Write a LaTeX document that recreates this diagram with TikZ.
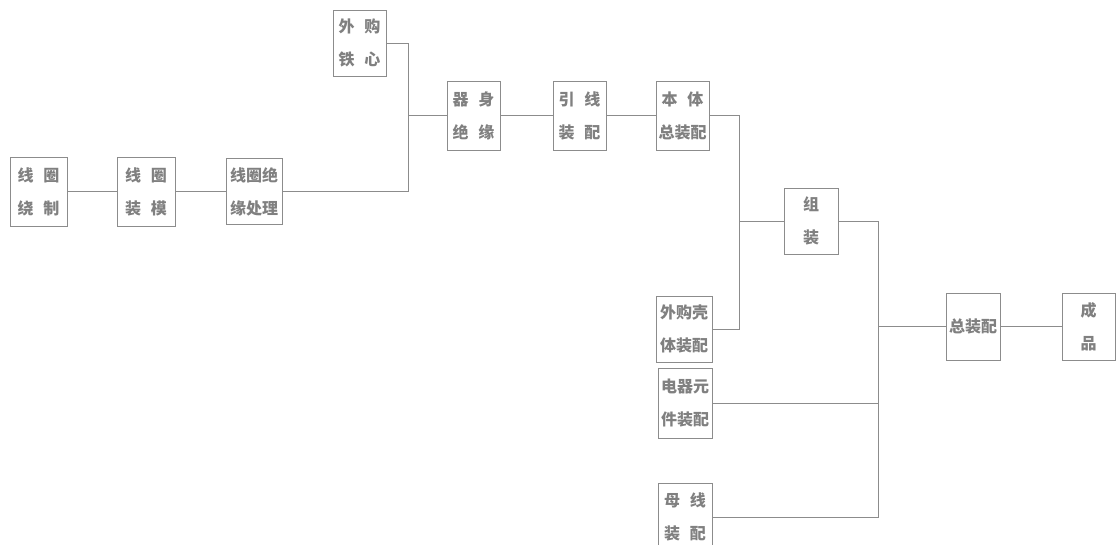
\documentclass[tikz,border=0pt]{standalone}
\usepackage{fontspec}
\newfontfamily\cjk{Noto Sans CJK SC}
\definecolor{boxline}{HTML}{8C8C8C}
\definecolor{txt}{HTML}{808080}
\newcommand{\gapsp}{\hspace{0.6em}}
\begin{document}
\begin{tikzpicture}[x=1pt,y=-1pt,
  stepbox/.style={draw=boxline,line width=0.9pt,inner sep=0pt,align=center,
    font=\cjk\bfseries\fontsize{16}{33}\selectfont,text=txt},
  link/.style={draw=boxline,line width=0.8pt}]
\useasboundingbox (0,0) rectangle (1119,544);
\clip (0,0) rectangle (1119,544);
\fill[white] (0,0) rectangle (1119,544);
\node[stepbox,minimum width=57,minimum height=69] (a) at (38.5,191.5) {线\gapsp 圈\\绕\gapsp 制};
\node[stepbox,minimum width=58,minimum height=69] (b) at (146,191.5) {线\gapsp 圈\\装\gapsp 模};
\node[stepbox,minimum width=56,minimum height=66] (c) at (254,191.5) {线圈绝\\缘处理};
\node[stepbox,minimum width=53,minimum height=66] (d) at (359.5,43) {外\gapsp 购\\铁\gapsp 心};
\node[stepbox,minimum width=53,minimum height=69] (e) at (473.5,115.5) {器\gapsp 身\\绝\gapsp 缘};
\node[stepbox,minimum width=53,minimum height=69] (f) at (579.5,115.5) {引\gapsp 线\\装\gapsp 配};
\node[stepbox,minimum width=53,minimum height=69] (g) at (682.5,115.5) {本\gapsp 体\\总装配};
\node[stepbox,minimum width=54,minimum height=66] (h) at (811,221) {组\\装};
\node[stepbox,minimum width=56,minimum height=66] (i) at (684,329) {外购壳\\体装配};
\node[stepbox,minimum width=54,minimum height=70] (j) at (685,403) {电器元\\件装配};
\node[stepbox,minimum width=54,minimum height=68] (k) at (685,517) {母\gapsp 线\\装\gapsp 配};
\node[stepbox,minimum width=54,minimum height=67] (l) at (973,326.5) {总装配};
\node[stepbox,minimum width=53,minimum height=67] (m) at (1088.5,326.5) {成\\品};
\coordinate (J1) at (408,115.5);
\coordinate (J2) at (739,221);
\coordinate (J3) at (878,326.5);
\draw[link] (a.east) -- (b.west);
\draw[link] (b.east) -- (c.west);
\draw[link] (c.east) -| (J1);
\draw[link] (d.east) -| (J1);
\draw[link] (J1) -- (e.west);
\draw[link] (e.east) -- (f.west);
\draw[link] (f.east) -- (g.west);
\draw[link] (g.east) -| (J2);
\draw[link] (i.east) -| (J2);
\draw[link] (J2) -- (h.west);
\draw[link] (h.east) -| (J3);
\draw[link] (j.east) -| (J3);
\draw[link] (k.east) -| (J3);
\draw[link] (J3) -- (l.west);
\draw[link] (l.east) -- (m.west);
\end{tikzpicture}
\end{document}
